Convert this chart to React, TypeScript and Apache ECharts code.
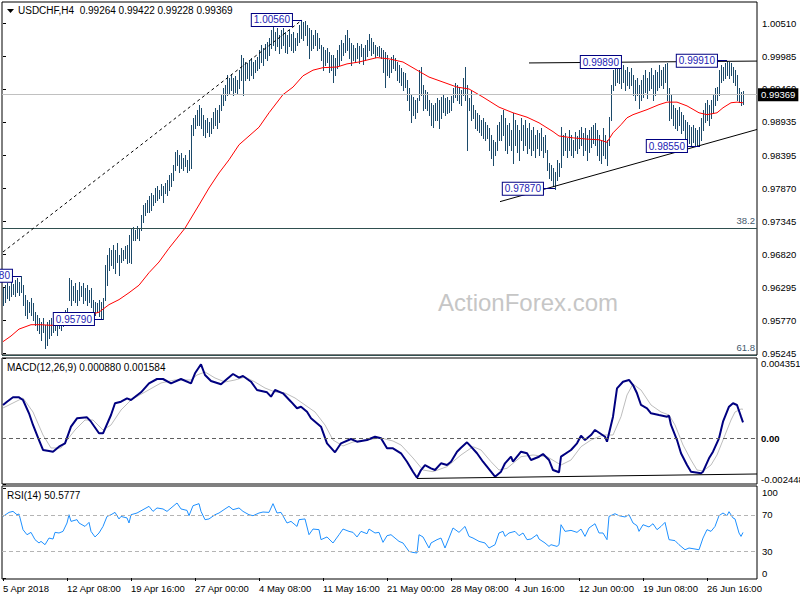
import React, { useEffect, useRef } from 'react';
import * as echarts from 'echarts';

const FONT = '"Liberation Sans", Arial, sans-serif';

// ---- price bars (H4), one per bar index ----
const barHigh = [
  0.9629, 0.9633, 0.9637, 0.9632, 0.9638, 0.9635, 0.9641, 0.9645, 0.9638, 0.9648,
  0.9633, 0.9618, 0.9610, 0.9606, 0.9613, 0.9605, 0.9590, 0.9586, 0.9581, 0.9574,
  0.9581, 0.9570, 0.9574, 0.9578, 0.9581, 0.9574, 0.9584, 0.9581, 0.9590, 0.9586,
  0.9590, 0.9594, 0.9597, 0.9645, 0.9641, 0.9632, 0.9637, 0.9626, 0.9638, 0.9632,
  0.9637, 0.9629, 0.9633, 0.9626, 0.9629, 0.9610, 0.9606, 0.9605, 0.9610, 0.9606,
  0.9613, 0.9665, 0.9681, 0.9692, 0.9689, 0.9697, 0.9689, 0.9700, 0.9681, 0.9692,
  0.9689, 0.9696, 0.9697, 0.9713, 0.9724, 0.9726, 0.9721, 0.9727, 0.9724, 0.9745,
  0.9761, 0.9764, 0.9769, 0.9775, 0.9780, 0.9777, 0.9788, 0.9791, 0.9785, 0.9795,
  0.9791, 0.9796, 0.9801, 0.9809, 0.9812, 0.9825, 0.9846, 0.9849, 0.9841, 0.9844,
  0.9836, 0.9841, 0.9833, 0.9849, 0.9889, 0.9900, 0.9905, 0.9913, 0.9921, 0.9916,
  0.9905, 0.9897, 0.9900, 0.9893, 0.9900, 0.9909, 0.9916, 0.9913, 0.9921, 0.9937,
  0.9948, 0.9952, 0.9968, 0.9964, 0.9970, 0.9964, 0.9967, 0.9960, 0.9976, 1.0000,
  0.9996, 0.9989, 0.9988, 0.9992, 0.9996, 0.9989, 0.9992, 0.9997, 1.0008, 1.0016,
  1.0011, 1.0018, 1.0021, 1.0027, 1.0040, 1.0048, 1.0037, 1.0043, 1.0032, 1.0040,
  1.0043, 1.0037, 1.0032, 1.0040, 1.0034, 1.0037, 1.0027, 1.0035, 1.0048, 1.0056,
  1.0053, 1.0055, 1.0048, 1.0043, 1.0040, 1.0032, 1.0040, 1.0035, 1.0027, 1.0016,
  1.0013, 1.0008, 1.0011, 1.0005, 1.0000, 1.0000, 0.9996, 1.0008, 1.0016, 1.0024,
  1.0019, 1.0032, 1.0040, 1.0027, 1.0019, 1.0016, 1.0011, 1.0019, 1.0015, 1.0018,
  1.0011, 1.0016, 1.0024, 1.0034, 1.0027, 1.0021, 1.0016, 1.0013, 1.0015, 1.0011,
  1.0008, 1.0005, 1.0000, 0.9992, 0.9997, 1.0000, 0.9996, 0.9989, 0.9984, 0.9980,
  0.9973, 0.9972, 0.9960, 0.9948, 0.9937, 0.9933, 0.9929, 0.9932, 0.9976, 0.9981,
  0.9952, 0.9945, 0.9941, 0.9929, 0.9924, 0.9921, 0.9924, 0.9932, 0.9929, 0.9933,
  0.9937, 0.9932, 0.9933, 0.9929, 0.9935, 0.9948, 0.9956, 0.9952, 0.9948, 0.9945,
  0.9964, 0.9981, 0.9952, 0.9932, 0.9945, 0.9921, 0.9913, 0.9908, 0.9905, 0.9897,
  0.9900, 0.9893, 0.9889, 0.9884, 0.9873, 0.9865, 0.9861, 0.9889, 0.9893, 0.9905,
  0.9913, 0.9900, 0.9889, 0.9892, 0.9881, 0.9908, 0.9897, 0.9889, 0.9881, 0.9900,
  0.9889, 0.9897, 0.9884, 0.9892, 0.9881, 0.9885, 0.9873, 0.9881, 0.9876, 0.9884,
  0.9869, 0.9873, 0.9849, 0.9828, 0.9825, 0.9820, 0.9814, 0.9833, 0.9828, 0.9885,
  0.9873, 0.9876, 0.9868, 0.9881, 0.9873, 0.9865, 0.9877, 0.9871, 0.9881, 0.9885,
  0.9876, 0.9884, 0.9873, 0.9881, 0.9885, 0.9889, 0.9892, 0.9881, 0.9873, 0.9865,
  0.9884, 0.9873, 0.9865, 0.9901, 0.9952, 0.9976, 0.9984, 0.9989, 0.9983, 0.9980,
  0.9984, 0.9976, 0.9981, 0.9973, 0.9980, 0.9968, 0.9960, 0.9964, 0.9952, 0.9960,
  0.9968, 0.9976, 0.9964, 0.9973, 0.9980, 0.9968, 0.9976, 0.9973, 0.9984, 0.9976,
  0.9981, 0.9986, 0.9988, 0.9948, 0.9937, 0.9921, 0.9916, 0.9913, 0.9917, 0.9909,
  0.9905, 0.9897, 0.9893, 0.9889, 0.9885, 0.9889, 0.9884, 0.9881, 0.9885, 0.9900,
  0.9913, 0.9924, 0.9929, 0.9921, 0.9929, 0.9937, 0.9948, 0.9949, 0.9976, 0.9984,
  0.9981, 0.9988, 0.9991, 0.9989, 0.9988, 0.9981, 0.9976, 0.9968, 0.9948, 0.9941,
  0.99422
];

const barLow = [
  0.9602, 0.9606, 0.9613, 0.9610, 0.9616, 0.9619, 0.9616, 0.9622, 0.9617, 0.9622,
  0.9602, 0.9586, 0.9581, 0.9590, 0.9586, 0.9578, 0.9570, 0.9562, 0.9557, 0.9546,
  0.9558, 0.9533, 0.9538, 0.9549, 0.9554, 0.9558, 0.9562, 0.9554, 0.9565, 0.9562,
  0.9568, 0.9570, 0.9574, 0.9610, 0.9602, 0.9610, 0.9606, 0.9602, 0.9610, 0.9616,
  0.9605, 0.9610, 0.9602, 0.9606, 0.9598, 0.9590, 0.9586, 0.9590, 0.9584, 0.9581,
  0.9579, 0.9610, 0.9633, 0.9657, 0.9665, 0.9660, 0.9653, 0.9670, 0.9649, 0.9670,
  0.9673, 0.9676, 0.9668, 0.9670, 0.9668, 0.9705, 0.9705, 0.9708, 0.9705, 0.9721,
  0.9734, 0.9745, 0.9750, 0.9750, 0.9753, 0.9761, 0.9766, 0.9769, 0.9772, 0.9777,
  0.9766, 0.9780, 0.9777, 0.9785, 0.9791, 0.9801, 0.9817, 0.9825, 0.9814, 0.9820,
  0.9817, 0.9823, 0.9814, 0.9817, 0.9820, 0.9873, 0.9884, 0.9889, 0.9889, 0.9884,
  0.9873, 0.9869, 0.9877, 0.9871, 0.9876, 0.9884, 0.9889, 0.9884, 0.9893, 0.9913,
  0.9921, 0.9929, 0.9937, 0.9940, 0.9945, 0.9937, 0.9941, 0.9938, 0.9948, 0.9960,
  0.9937, 0.9960, 0.9964, 0.9960, 0.9968, 0.9964, 0.9973, 0.9976, 0.9980, 0.9989,
  0.9984, 0.9996, 0.9992, 1.0000, 1.0011, 1.0016, 1.0008, 1.0015, 1.0003, 1.0011,
  1.0016, 1.0005, 1.0003, 1.0015, 1.0008, 1.0005, 1.0008, 1.0016, 1.0021, 1.0027,
  1.0024, 1.0032, 1.0016, 0.9996, 1.0008, 1.0011, 1.0016, 1.0008, 1.0011, 0.9992,
  0.9976, 0.9984, 0.9989, 0.9973, 0.9976, 0.9957, 0.9968, 0.9980, 0.9984, 0.9992,
  1.0000, 1.0005, 1.0008, 0.9996, 0.9984, 0.9992, 0.9989, 0.9996, 0.9988, 0.9999,
  0.9986, 0.9992, 0.9999, 1.0008, 1.0000, 1.0003, 0.9997, 1.0000, 0.9999, 0.9996,
  0.9973, 0.9949, 0.9968, 0.9965, 0.9973, 0.9980, 0.9976, 0.9960, 0.9957, 0.9952,
  0.9945, 0.9949, 0.9929, 0.9913, 0.9893, 0.9905, 0.9900, 0.9909, 0.9929, 0.9937,
  0.9913, 0.9916, 0.9913, 0.9905, 0.9889, 0.9885, 0.9897, 0.9897, 0.9884, 0.9900,
  0.9909, 0.9905, 0.9908, 0.9909, 0.9913, 0.9925, 0.9933, 0.9929, 0.9924, 0.9921,
  0.9937, 0.9929, 0.9849, 0.9913, 0.9897, 0.9900, 0.9884, 0.9881, 0.9877, 0.9873,
  0.9868, 0.9865, 0.9868, 0.9849, 0.9836, 0.9825, 0.9841, 0.9849, 0.9865, 0.9865,
  0.9873, 0.9849, 0.9844, 0.9857, 0.9849, 0.9828, 0.9857, 0.9846, 0.9833, 0.9865,
  0.9849, 0.9857, 0.9844, 0.9852, 0.9841, 0.9849, 0.9838, 0.9852, 0.9841, 0.9849,
  0.9838, 0.9846, 0.9817, 0.9804, 0.9801, 0.9791, 0.9787, 0.9801, 0.9807, 0.9822,
  0.9841, 0.9849, 0.9838, 0.9849, 0.9841, 0.9838, 0.9849, 0.9844, 0.9852, 0.9857,
  0.9841, 0.9849, 0.9833, 0.9846, 0.9854, 0.9860, 0.9857, 0.9841, 0.9833, 0.9828,
  0.9841, 0.9836, 0.9825, 0.9857, 0.9897, 0.9945, 0.9952, 0.9957, 0.9956, 0.9948,
  0.9957, 0.9945, 0.9952, 0.9948, 0.9952, 0.9937, 0.9929, 0.9937, 0.9916, 0.9929,
  0.9933, 0.9941, 0.9932, 0.9945, 0.9948, 0.9929, 0.9937, 0.9945, 0.9949, 0.9952,
  0.9948, 0.9957, 0.9929, 0.9897, 0.9900, 0.9889, 0.9884, 0.9881, 0.9889, 0.9876,
  0.9881, 0.9868, 0.9865, 0.9860, 0.9857, 0.9861, 0.9855, 0.9855, 0.9855, 0.9865,
  0.9881, 0.9893, 0.9897, 0.9889, 0.9900, 0.9908, 0.9921, 0.9929, 0.9937, 0.9957,
  0.9960, 0.9964, 0.9968, 0.9964, 0.9968, 0.9957, 0.9952, 0.9929, 0.9925, 0.9921,
  0.99228
];

// ---- moving average (red) [bar index, price] ----
const maPoints = [
  [0, 0.9543], [4, 0.9552], [8, 0.9563], [14, 0.9570], [19, 0.9570], [24, 0.9569], [29, 0.9570],
  [32, 0.9576], [38, 0.9581], [48, 0.9590], [53, 0.9602], [58, 0.9610], [63, 0.9621], [68, 0.9633],
  [73, 0.9653], [78, 0.9670], [83, 0.9692], [91, 0.9724], [98, 0.9761], [103, 0.9788], [108, 0.9812],
  [113, 0.9833], [118, 0.9857], [123, 0.9871], [128, 0.9885], [133, 0.9908], [140, 0.9937], [145, 0.9949],
  [150, 0.9967], [155, 0.9976], [160, 0.9980], [167, 0.9981], [172, 0.9986], [178, 0.9989], [187, 0.9996],
  [193, 0.9994], [200, 0.9989], [207, 0.9976], [213, 0.9965], [220, 0.9957], [227, 0.9949], [233, 0.9946],
  [240, 0.9933], [248, 0.9917], [255, 0.9908], [262, 0.9901], [268, 0.9892], [275, 0.9878], [278, 0.9871],
  [285, 0.9868], [292, 0.9866], [298, 0.9865], [302, 0.9861], [305, 0.9876], [309, 0.9889], [312, 0.9900],
  [315, 0.9905], [322, 0.9913], [328, 0.9921], [332, 0.9925], [337, 0.9925], [342, 0.9919], [348, 0.9908],
  [352, 0.9905], [357, 0.9908], [360, 0.9916], [364, 0.9924], [367, 0.9925], [370, 0.9924]
];

// ---- MACD(12,26,9) main & signal [bar index, value] ----
const macdPoints = [
  [0, 0.001815], [2, 0.001993], [5, 0.002230], [8, 0.002230], [10, 0.002085], [13, 0.001367], [15, 0.000736],
  [18, -0.000074], [20, -0.000613], [23, -0.000667], [25, -0.000705], [28, -0.000435], [31, -0.000252],
  [34, 0.000644], [37, 0.001097], [42, 0.001151], [44, 0.000914], [48, 0.000288], [50, 0.000288],
  [54, 0.001275], [56, 0.001907], [59, 0.001993], [62, 0.002176], [64, 0.002085], [69, 0.002500],
  [73, 0.002986], [77, 0.003218], [80, 0.003218], [84, 0.002986], [89, 0.003218], [94, 0.002986],
  [96, 0.003525], [99, 0.004011], [101, 0.003434], [104, 0.003110], [109, 0.002932], [112, 0.003218],
  [115, 0.003488], [118, 0.003288], [120, 0.003380], [124, 0.003072], [127, 0.002624], [132, 0.002500],
  [134, 0.002263], [136, 0.002624], [140, 0.002446], [144, 0.001993], [147, 0.001637], [149, 0.001723],
  [152, 0.001453], [154, 0.001097], [159, 0.000644], [162, -0.000252], [166, -0.000737], [169, -0.000252],
  [174, -0.000020], [177, -0.000165], [182, -0.000074], [186, 0.000104], [189, 0.000018], [192, -0.000522],
  [195, -0.000522], [199, -0.000791], [202, -0.001245], [205, -0.001784], [207, -0.002108], [209, -0.001693],
  [211, -0.001423], [214, -0.001601], [216, -0.001693], [219, -0.001331], [222, -0.001423], [224, -0.001245],
  [227, -0.000705], [229, -0.000489], [232, -0.000198], [234, -0.000435], [237, -0.000791], [240, -0.001245],
  [244, -0.001784], [246, -0.002054], [249, -0.001784], [251, -0.001331], [254, -0.000975], [255, -0.001245],
  [259, -0.000705], [262, -0.000791], [264, -0.001153], [268, -0.000975], [270, -0.000829], [273, -0.001153],
  [275, -0.001693], [278, -0.001817], [279, -0.000975], [284, -0.000613], [287, -0.000252], [289, 0.000158],
  [291, -0.000074], [294, 0.000196], [296, 0.000466], [299, 0.000250], [301, 0.000104], [302, -0.000165],
  [305, 0.001184], [307, 0.002716], [310, 0.003072], [313, 0.003164], [315, 0.002894], [317, 0.002446],
  [319, 0.001815], [322, 0.001637], [324, 0.001367], [328, 0.001275], [332, 0.001184], [333, 0.001238],
  [334, 0.000736], [337, -0.000074], [339, -0.000791], [342, -0.001423], [344, -0.001784], [349, -0.001871],
  [350, -0.001784], [353, -0.001061], [355, -0.000705], [358, 0.000018], [360, 0.000914], [363, 0.001723],
  [365, 0.001907], [367, 0.001815], [369, 0.001184], [370, 0.000880]
];

const signalPoints = [
  [0, 0.001653], [5, 0.001923], [10, 0.002193], [15, 0.001437], [20, 0.000196], [24, -0.000505],
  [29, -0.000505], [32, -0.000074], [36, 0.000466], [41, 0.001005], [45, 0.001005], [50, 0.000466],
  [54, 0.000736], [59, 0.001545], [64, 0.002085], [71, 0.002516], [79, 0.003002], [86, 0.003164],
  [94, 0.003164], [97, 0.003434], [101, 0.003596], [106, 0.003272], [111, 0.003056], [116, 0.003164],
  [121, 0.003326], [126, 0.003056], [131, 0.002732], [136, 0.002516], [141, 0.002462], [146, 0.002193],
  [151, 0.001815], [156, 0.001437], [161, 0.000736], [165, -0.000074], [170, -0.000397], [175, -0.000182],
  [181, -0.000074], [189, 0.000034], [195, -0.000128], [199, -0.000344], [205, -0.001045], [210, -0.001693],
  [215, -0.001784], [222, -0.001514], [229, -0.000883], [235, -0.000435], [239, -0.000613], [244, -0.001245],
  [248, -0.001693], [252, -0.001601], [259, -0.000975], [265, -0.000883], [272, -0.000975], [279, -0.001423],
  [284, -0.001153], [289, -0.000435], [294, -0.000074], [300, 0.000196], [305, 0.000196], [309, 0.001184],
  [312, 0.002354], [315, 0.002948], [319, 0.002624], [324, 0.001815], [329, 0.001437], [333, 0.001275],
  [336, 0.000736], [340, -0.000344], [344, -0.001153], [347, -0.001693], [350, -0.001746], [354, -0.001423],
  [357, -0.000883], [360, -0.000074], [364, 0.001005], [366, 0.001437], [369, 0.001599], [370, 0.001584]
];

// ---- RSI(14) [bar index, value] ----
const rsiPoints = [
  [0, 68.4], [3, 72.9], [5, 74], [7, 70.3], [8, 71.1], [10, 53.7], [12, 48.1], [14, 50.7], [16, 42.6],
  [18, 38.9], [19, 40.7], [21, 37], [23, 44.4], [25, 43.3], [26, 50.7], [28, 50], [30, 51.8], [32, 61.1],
  [33, 70.3], [34, 62.9], [37, 64.8], [38, 61.1], [41, 57.3], [43, 61.8], [44, 51.8], [46, 45.6], [48, 50],
  [50, 57.3], [52, 68.4], [54, 70.3], [56, 72.9], [58, 65.6], [59, 68.4], [62, 66.7], [63, 61.1], [64, 70.3],
  [67, 72.2], [70, 75.9], [73, 79.6], [75, 74], [77, 77.8], [80, 76.7], [82, 74], [85, 79.6], [87, 83.3],
  [89, 76.7], [92, 75.1], [93, 69.2], [95, 80.3], [98, 82.6], [99, 74], [101, 64.8], [103, 65.6], [106, 70.3],
  [108, 72.2], [111, 76.7], [113, 79.6], [115, 75.9], [118, 77.8], [120, 74], [123, 70.3], [125, 69.2],
  [128, 72.2], [130, 73.3], [133, 72.9], [135, 82.6], [137, 72.2], [139, 72.9], [142, 61.1], [144, 62.9],
  [147, 57.3], [148, 64.8], [151, 65.6], [153, 48.1], [155, 54.4], [158, 53.7], [159, 42.6], [162, 45.6],
  [165, 38.9], [168, 48.1], [170, 54.4], [173, 51.8], [175, 50.7], [177, 45.6], [179, 51.8], [182, 49.2],
  [183, 54.4], [186, 50], [188, 50.7], [190, 39.6], [192, 47], [194, 48.1], [198, 40.7], [200, 38.9],
  [203, 29.6], [205, 28.4], [207, 27.8], [208, 48.1], [210, 45.6], [213, 33.3], [214, 38.9], [217, 42.6],
  [219, 44.4], [221, 33.3], [223, 44.4], [225, 55.6], [228, 50.7], [231, 57.3], [233, 46.2], [235, 44.4],
  [238, 40.7], [241, 38.9], [243, 33.3], [246, 37], [248, 50], [250, 51.8], [251, 46.2], [253, 50],
  [256, 51.8], [258, 47], [260, 50], [262, 42.6], [264, 43.3], [267, 48.1], [268, 43.3], [271, 38.9],
  [273, 35.1], [274, 37], [277, 35.1], [278, 37], [279, 59.2], [281, 51.8], [284, 52.9], [287, 50.7],
  [289, 54.4], [291, 46.2], [293, 55.6], [296, 60.3], [298, 50], [300, 50], [302, 42.6], [303, 68.4],
  [306, 71.4], [308, 69.2], [311, 67.8], [313, 70.3], [315, 61.1], [317, 58.1], [318, 51.8], [320, 59.2],
  [323, 56.7], [325, 60.3], [327, 53.7], [329, 57.3], [331, 61.8], [333, 42.6], [336, 41.5], [338, 37],
  [341, 31.4], [343, 33.3], [346, 32.2], [348, 31.4], [350, 44.4], [352, 53.7], [354, 51.8], [356, 57.3],
  [358, 69.2], [360, 72.2], [362, 69.2], [363, 73.7], [365, 66.7], [366, 65.6], [368, 50], [369, 46.2],
  [370, 50.5777]
];

// ---- axes ----
const priceTicks = [0.95245, 0.9577, 0.96295, 0.9682, 0.97345, 0.9787, 0.98395, 0.98935, 0.9946, 0.99985, 1.0051];
const macdTicks = [-0.002448, 0, 0.004351];
const rsiTicks = [0, 30, 70, 100];
const rsiLevels = [70, 30];
const timeTickIdx = [0, 32, 64, 96, 128, 160, 192, 224, 256, 288, 320, 352];
const timeTickLabels = [
  '5 Apr 2018', '12 Apr 08:00', '19 Apr 16:00', '27 Apr 00:00', '4 May 08:00', '11 May 16:00',
  '21 May 00:00', '28 May 08:00', '4 Jun 16:00', '12 Jun 00:00', '19 Jun 08:00', '26 Jun 16:00'
];

// ---- annotations ----
const lastPrice = 0.99369;
const fib382 = 0.97243;
const fib618 = 0.9522;
const swingIdx = [149.5, 307, 362, 348.5, 276, 50, 9];
const swingPrice = [1.0056, 0.9989, 0.9991, 0.9855, 0.9787, 0.9579, 0.9648];
const swingText = ['1.00560', '0.99890', '0.99910', '0.98550', '0.97870', '0.95790', '0.96480'];
const swingLead = [5, -2, 5, 6.5, 6, 4.5, 4.5];
const rallyLine = [[0, 0.9686], [149.5, 1.0056]];
const resistLine = [[263, 0.99875], [377, 0.99905]];
const supportLine = [[248.5, 0.97663], [377, 0.98814]];
const macdSupport = [[207, -0.002151], [377, -0.001908]];

const BAR_COLOR = '#1c4a6a';
const NAVY = '#000080';

function buildOption() {
  const barData = barHigh.map((h, i) => [i, h, barLow[i]]);
  const axisText = { color: '#000', fontSize: 9.5, fontFamily: FONT };

  const swingPoints = swingIdx.map((idx, k) => ({
    coord: [idx - swingLead[k], swingPrice[k]],
    value: swingText[k],
    symbol: 'rect',
    symbolSize: 0.1,
    itemStyle: { color: 'rgba(0,0,0,0)' },
    label: {
      show: true,
      position: 'left',
      distance: 0,
      formatter: swingText[k],
      color: '#2323b4',
      fontSize: 10,
      lineHeight: 11,
      fontFamily: FONT,
      backgroundColor: '#fff',
      borderColor: NAVY,
      borderWidth: 1,
      padding: [1, 2, 0, 2]
    }
  }));
  const connectors = swingIdx
    .map((idx, k) => ({ idx, k }))
    .filter(({ k }) => swingLead[k] > 0)
    .map(({ idx, k }) => [
      { coord: [idx - swingLead[k], swingPrice[k]], lineStyle: { color: NAVY, width: 1, type: 'solid' } },
      { coord: [idx, swingPrice[k]] }
    ]);

  const seg = (pts: number[][], style: any) => [
    { coord: pts[0], lineStyle: style },
    { coord: pts[1] }
  ];

  const gridBase = { left: 2, width: 755, show: true, borderColor: '#000', borderWidth: 1, backgroundColor: 'transparent', containLabel: false, outerBoundsMode: 'none' };

  return {
    animation: false,
    textStyle: { fontFamily: FONT },
    grid: [
      { ...gridBase, top: 2, height: 353 },
      { ...gridBase, top: 358, height: 126 },
      { ...gridBase, top: 486, height: 93 }
    ],
    xAxis: [0, 1, 2].map((g) => ({
      type: 'value',
      gridIndex: g,
      min: -0.5,
      max: 377,
      show: g === 2,
      axisLine: { show: false },
      splitLine: { show: false },
      axisTick: { show: g === 2, customValues: timeTickIdx, length: 3, lineStyle: { color: '#000' } },
      axisLabel: {
        show: g === 2,
        customValues: timeTickIdx,
        formatter: (v: number) => timeTickLabels[timeTickIdx.indexOf(Math.round(v))] ?? '',
        align: 'left',
        margin: 4,
        ...axisText
      }
    })),
    yAxis: [
      {
        type: 'value', gridIndex: 0, position: 'right', min: 0.95217, max: 1.00847,
        axisLine: { show: false }, splitLine: { show: false },
        axisTick: { show: true, customValues: priceTicks, length: 3, lineStyle: { color: '#000' } },
        axisLabel: { customValues: priceTicks, formatter: (v: number) => v.toFixed(5), margin: 5, ...axisText }
      },
      {
        type: 'value', gridIndex: 1, position: 'right', min: -0.002448, max: 0.004351,
        axisLine: { show: false }, splitLine: { show: false },
        axisTick: { show: true, customValues: macdTicks, length: 3, lineStyle: { color: '#000' } },
        axisLabel: {
          customValues: macdTicks,
          formatter: (v: number) => (Math.abs(v) < 1e-9 ? '{b|0.00}' : v.toFixed(6)),
          rich: { b: { fontWeight: 'bold', fontSize: 9.5, color: '#000', fontFamily: FONT } },
          margin: 4,
          verticalAlignMinLabel: 'bottom',
          verticalAlignMaxLabel: 'top',
          ...axisText
        }
      },
      {
        type: 'value', gridIndex: 2, position: 'right', min: -1.1, max: 102.2,
        axisLine: { show: false }, splitLine: { show: false },
        axisTick: { show: true, customValues: rsiTicks, length: 3, lineStyle: { color: '#000' } },
        axisLabel: {
          customValues: rsiTicks,
          formatter: (v: number) => String(Math.round(v)),
          margin: 5,
          verticalAlignMinLabel: 'bottom',
          verticalAlignMaxLabel: 'top',
          ...axisText
        }
      }
    ],
    series: [
      {
        type: 'line',
        name: 'levels',
        xAxisIndex: 0,
        yAxisIndex: 0,
        data: maPoints,
        symbol: 'none',
        lineStyle: { color: '#ff0000', width: 1 },
        z: 3,
        markLine: {
          silent: true,
          precision: 6,
          symbol: ['none', 'none'],
          animation: false,
          label: { show: false },
          data: [
            {
              yAxis: lastPrice,
              lineStyle: { color: '#c0c0c0', width: 1, type: 'solid' },
              label: {
                show: true, position: 'end', distance: 1, formatter: lastPrice.toFixed(5),
                backgroundColor: '#000', color: '#fff', padding: [2, 3, 1, 3], fontSize: 9.5, fontFamily: FONT
              }
            },
            {
              yAxis: fib382,
              lineStyle: { color: '#2f4f4f', width: 1, type: 'solid' },
              label: { show: true, position: 'insideEndTop', distance: 2, formatter: '38.2', color: '#44596b', fontSize: 9.5, fontFamily: FONT }
            },
            {
              yAxis: fib618,
              lineStyle: { color: '#2f4f4f', width: 1, type: 'solid' },
              label: { show: true, position: 'insideEndTop', distance: 2, formatter: '61.8', color: '#44596b', fontSize: 9.5, fontFamily: FONT }
            },
            seg(rallyLine, { color: '#000', width: 1, type: [3, 3] }),
            seg(resistLine, { color: '#000', width: 1, type: 'solid' }),
            seg(supportLine, { color: '#000', width: 1, type: 'solid' }),
            ...connectors
          ]
        },
        markPoint: { silent: true, animation: false, data: swingPoints }
      },
      {
        type: 'custom',
        name: 'USDCHF',
        xAxisIndex: 0,
        yAxisIndex: 0,
        data: barData,
        encode: { x: 0, y: [1, 2] },
        silent: true,
        z: 2,
        renderItem: (_params: any, api: any) => {
          const hi = api.coord([api.value(0), api.value(1)]);
          const lo = api.coord([api.value(0), api.value(2)]);
          const x = Math.round(hi[0]) + 0.5;
          return {
            type: 'line',
            shape: { x1: x, y1: Math.round(hi[1]), x2: x, y2: Math.round(lo[1]) + 1 },
            style: { stroke: BAR_COLOR, lineWidth: 1 }
          };
        }
      },
      {
        type: 'line',
        name: 'signal',
        xAxisIndex: 1,
        yAxisIndex: 1,
        data: signalPoints,
        symbol: 'none',
        lineStyle: { color: '#bdbdbd', width: 1 },
        markLine: {
          silent: true,
          precision: 6,
          symbol: ['none', 'none'],
          animation: false,
          label: { show: false },
          data: [
            { yAxis: 0, lineStyle: { color: '#606060', width: 1, type: [4, 3] } },
            seg(macdSupport, { color: '#000', width: 1, type: 'solid' })
          ]
        }
      },
      {
        type: 'line',
        name: 'macd',
        xAxisIndex: 1,
        yAxisIndex: 1,
        data: macdPoints,
        symbol: 'none',
        lineStyle: { color: NAVY, width: 2 }
      },
      {
        type: 'line',
        name: 'rsi',
        xAxisIndex: 2,
        yAxisIndex: 2,
        data: rsiPoints,
        symbol: 'none',
        lineStyle: { color: '#1e90ff', width: 1 },
        markLine: {
          silent: true,
          precision: 4,
          symbol: ['none', 'none'],
          animation: false,
          label: { show: false },
          data: rsiLevels.map((v) => ({ yAxis: v, lineStyle: { color: '#b4b4b4', width: 1, type: [4, 3] } }))
        }
      }
    ],
    graphic: [
      { type: 'text', left: 438, top: 290, z: 0, silent: true, style: { text: 'ActionForex.com', fontSize: 24, fill: '#c6c6c6', fontFamily: FONT } },
      { type: 'polygon', silent: true, shape: { points: [[7, 9], [14, 9], [10.5, 13]] }, style: { fill: '#000' } },
      { type: 'text', left: 18, top: 5, silent: true, style: { text: 'USDCHF,H4  0.99264 0.99422 0.99228 0.99369', fontSize: 10, fill: '#000', fontFamily: FONT } },
      { type: 'text', left: 7, top: 362, silent: true, style: { text: 'MACD(12,26,9) 0.000880 0.001584', fontSize: 10, fill: '#000', fontFamily: FONT } },
      { type: 'text', left: 7, top: 490, silent: true, style: { text: 'RSI(14) 50.5777', fontSize: 10, fill: '#000', fontFamily: FONT } }
    ]
  };
}

export default function App() {
  const ref = useRef<HTMLDivElement>(null);
  useEffect(() => {
    if (!ref.current) return;
    const chart = echarts.init(ref.current, null, { renderer: 'svg' });
    chart.setOption(buildOption() as any);
    return () => chart.dispose();
  }, []);
  return (
    <div
      ref={ref}
      style={{ position: 'fixed', left: 0, top: 0, width: 800, height: 600, background: '#fff' }}
    />
  );
}
